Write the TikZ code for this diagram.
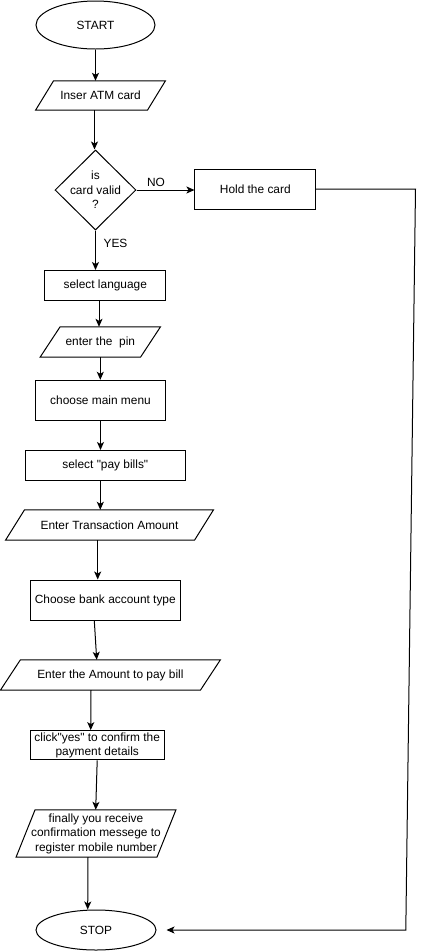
\documentclass[tikz,border=0pt]{standalone}
\usepackage{fontspec}
\newfontfamily\diafont{Liberation Sans}
\usetikzlibrary{shapes.geometric,arrows.meta}
\newcommand{\paraframe}[2]{\draw[ln] ([xshift=-#2/2]#1.south west) -- ([xshift=#2/2]#1.north west) -- ([xshift=#2/2]#1.north east) -- ([xshift=-#2/2]#1.south east) -- cycle;}
\begin{document}
\begin{tikzpicture}[x=1pt,y=-1pt,
  every node/.style={font=\diafont\fontsize{11.9}{14.5}\selectfont, align=center, inner sep=0pt},
  box/.style={draw, line width=1pt, rectangle},
  term/.style={draw, line width=1pt, ellipse},
  iotext/.style={rectangle},
  ln/.style={line width=1pt},
  arr/.style={line width=1pt, -{Stealth[length=8pt,width=7pt,inset=2pt]}}]
\useasboundingbox (0,0) rectangle (425,951);
\fill[white] (0,0) rectangle (425,951);

\node[term, minimum width=119, minimum height=48] (start) at (95.5,25) {START};
\node[iotext, minimum width=111.5, minimum height=29] (atm) at (100.5,95.5) {Inser ATM card};
\paraframe{atm}{18}
\node[diamond, draw, line width=1pt, aspect=1, minimum width=81, minimum height=80] (dia) at (95.5,190) {};
\node (diat) at (dia.center) {is\\card valid\\?};
\node[box, minimum width=120.7, minimum height=40] (hold) at (255.3,189) {Hold the card};
\node[box, minimum width=120.7, minimum height=30] (lang) at (105.3,285.5) {select language};
\node[iotext, minimum width=100, minimum height=30] (pin) at (100.3,342) {enter the\ \ pin};
\paraframe{pin}{20}
\node[box, minimum width=130.4, minimum height=40] (menu) at (100.5,400.3) {choose main menu};
\node[box, minimum width=160, minimum height=30] (pay) at (105.3,465.5) {select "pay bills"};
\node[iotext, minimum width=188.6, minimum height=30] (trans) at (109.5,525) {Enter Transaction Amount};
\paraframe{trans}{19}
\node[box, minimum width=150, minimum height=40] (bank) at (105.3,600) {Choose bank account type};
\node[iotext, minimum width=199.6, minimum height=30] (amt) at (110.4,675) {Enter the Amount to pay bill};
\paraframe{amt}{20}
\node[box, minimum width=134.3, minimum height=29.3] (click) at (97.2,745.3) {click"yes" to confirm the\\payment details};
\node[iotext, minimum width=140.5, minimum height=47] (fin) at (96,833.5) {finally you receive\\confirmation messege to\\register mobile number};
\paraframe{fin}{19}
\node[term, minimum width=120, minimum height=40] (stop) at (96,930) {STOP};

\node (no) at (156,182) {NO};
\node (yes) at (115.5,243) {YES};

\draw[arr] (start.south) -- ([xshift=-5]atm.north);
\draw[arr] ([xshift=-6]atm.south) -- ([xshift=-1]dia.north);
\draw[arr] (dia.east) -- (dia.east -| hold.west);
\draw[arr] (dia.south) -- (dia.south |- lang.north);
\draw[arr] ([xshift=-6.3]lang.south) -- ([xshift=-1.3]pin.north);
\draw[arr] (pin.south) -- (pin.south |- menu.north);
\draw[arr] (menu.south) -- (menu.south |- pay.north);
\draw[arr] ([xshift=-5]pay.south) -- ([xshift=-5]pay.south |- trans.north);
\draw[arr] ([xshift=-11.8]trans.south) -- ([xshift=-7.6]bank.north);
\draw[arr] ([xshift=-11]bank.south) -- ([xshift=-13.7]amt.north);
\draw[arr] ([xshift=-19.4]amt.south) -- ([xshift=-6.5]click.north);
\draw[arr] (click.south) -- ([xshift=-0.3]fin.north);
\draw[arr] ([xshift=-8]fin.south) -- ([xshift=-8.3]stop.north);

\coordinate (c1) at (415.5,189);
\coordinate (c2) at (405.8,930);
\draw[arr, shorten >=10pt] (hold.east) -- (c1) -- (c2) -- (stop.east);
\end{tikzpicture}
\end{document}
